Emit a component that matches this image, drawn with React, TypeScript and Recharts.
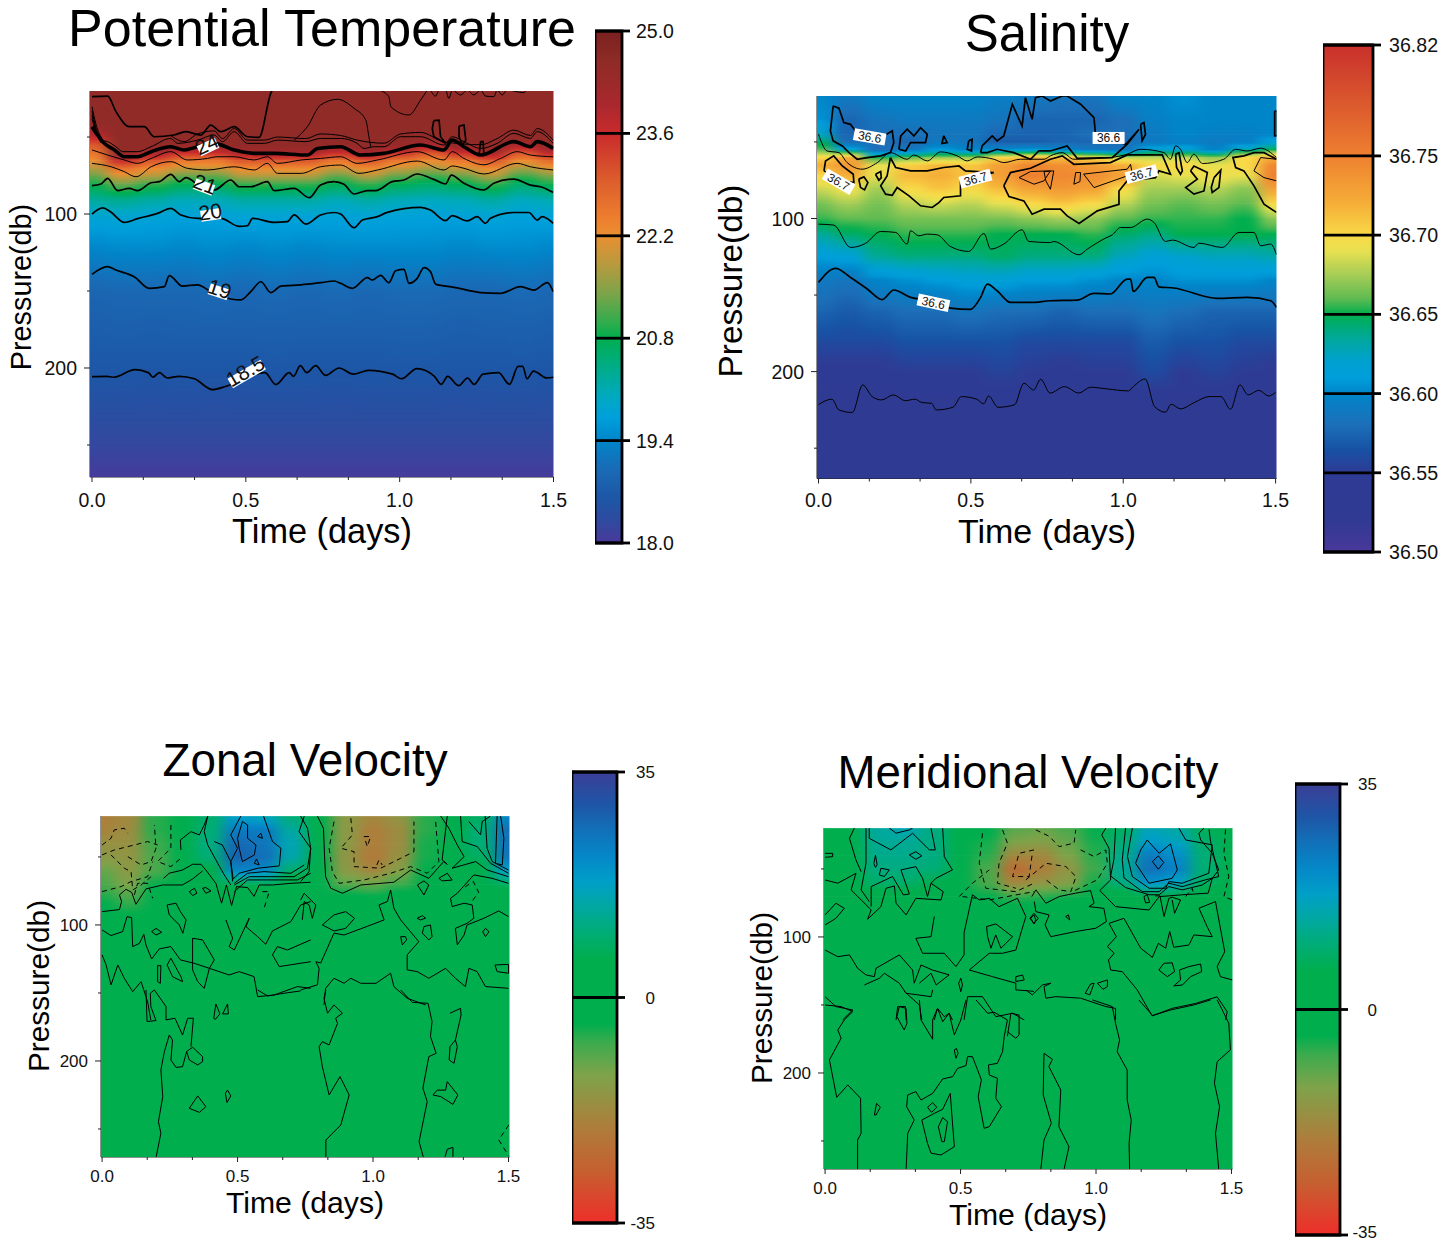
import { ComposedChart, Scatter, XAxis, YAxis, ReferenceArea, ReferenceLine } from 'recharts'

type Pt = [number, number]

const FONT = '"Liberation Sans", Arial, sans-serif'

// time columns shared by the four colour fields
const times = [0, 0.1, 0.2, 0.3, 0.4, 0.5, 0.6, 0.7, 0.8, 0.9, 1.0, 1.1, 1.2, 1.3, 1.4, 1.5]
const timeTicks = [0, 0.1667, 0.3333, 0.5, 0.6667, 0.8333, 1.0, 1.1667, 1.3333, 1.5]
const pressureTicks = [50, 100, 150, 200, 250]

// potential temperature field
const tempLevels = [20, 40, 50, 55, 60, 65, 70, 75, 80, 90, 100, 120, 150, 200, 250, 271]
const tempGrid = [
  [24.55, 24.55, 24.55, 24.55, 24.55, 24.55, 24.55, 24.55, 24.55, 24.55, 24.55, 24.55, 24.55, 24.55, 24.55, 24.55],
  [24.55, 24.55, 24.55, 24.55, 24.55, 24.55, 24.55, 24.55, 24.55, 24.55, 24.55, 24.55, 24.55, 24.55, 24.55, 24.55],
  [23.7, 24.55, 24.55, 24.55, 24.55, 24.55, 24.55, 24.55, 24.55, 24.55, 24.55, 24.55, 24.55, 24.55, 24.55, 24.55],
  [23.0, 24.55, 24.55, 24.4, 24.4, 24.55, 24.55, 24.55, 24.4, 24.55, 24.4, 24.0, 24.4, 24.55, 24.0, 24.5],
  [22.6, 24.5, 24.1, 23.6, 23.6, 24.1, 24.1, 24.1, 23.6, 24.1, 23.6, 23.1, 23.6, 24.1, 23.1, 23.8],
  [22.2, 23.7, 23.1, 22.6, 22.6, 23.1, 23.1, 23.1, 22.6, 23.1, 22.6, 22.3, 22.6, 23.1, 22.3, 22.8],
  [21.8, 22.7, 22.3, 21.95, 21.95, 22.3, 22.3, 22.3, 21.95, 22.3, 21.95, 21.7, 21.95, 22.3, 21.7, 22.05],
  [21.3, 22.05, 21.8, 21.3, 21.3, 21.8, 21.8, 21.8, 21.3, 21.8, 21.3, 21.1, 21.3, 21.8, 21.1, 21.45],
  [20.9, 21.4, 21.1, 20.8, 20.8, 21.1, 21.1, 21.1, 20.8, 21.1, 20.8, 20.65, 20.8, 21.1, 20.65, 20.9],
  [20.3, 20.4, 20.25, 20.1, 20.1, 20.25, 20.25, 20.25, 20.1, 20.25, 20.1, 20.05, 20.1, 20.25, 20.05, 20.15],
  [19.85, 19.88, 19.82, 19.78, 19.78, 19.82, 19.82, 19.82, 19.78, 19.82, 19.78, 19.75, 19.78, 19.82, 19.75, 19.8],
  [19.45, 19.5, 19.5, 19.45, 19.5, 19.45, 19.5, 19.45, 19.5, 19.5, 19.5, 19.5, 19.45, 19.5, 19.5, 19.45],
  [18.9, 18.95, 18.95, 18.95, 19.0, 18.95, 19.0, 18.95, 19.0, 18.95, 19.0, 19.0, 18.95, 18.95, 19.0, 18.95],
  [18.62, 18.62, 18.6, 18.62, 18.6, 18.62, 18.62, 18.62, 18.6, 18.62, 18.62, 18.62, 18.6, 18.62, 18.62, 18.6],
  [18.25, 18.25, 18.25, 18.25, 18.25, 18.25, 18.25, 18.25, 18.25, 18.25, 18.25, 18.25, 18.25, 18.25, 18.25, 18.25],
  [18.05, 18.05, 18.05, 18.05, 18.05, 18.05, 18.05, 18.05, 18.05, 18.05, 18.05, 18.05, 18.05, 18.05, 18.05, 18.05],
]
const tempScale = [18, 18.3, 18.6, 19, 19.4, 19.7, 20, 20.4, 20.8, 21, 21.4, 21.8, 22.2, 22.4, 23, 23.6, 23.7, 24, 24.6, 25]
const tempColors = ['#4a389a', '#2f4a9f', '#1d56a6', '#1a6ab5', '#0085c9', '#009fdc', '#00a9c0', '#00ac88', '#00ae4e', '#2dad4d', '#7ba44a', '#b79a3e', '#e98f32', '#ee812f', '#db5a2c', '#c92a2c', '#c12a2c', '#a8282e', '#8e2b26', '#7a2020']
const tempBarTicks = [18.0, 19.4, 20.8, 22.2, 23.6, 25.0]

// salinity field
const salLevels = [20, 35, 45, 50, 55, 60, 65, 72, 80, 90, 100, 110, 125, 140, 160, 180, 200, 230, 270]
const salGrid = [
  [36.6, 36.59, 36.6, 36.6, 36.6, 36.6, 36.595, 36.59, 36.585, 36.585, 36.6, 36.6, 36.605, 36.6, 36.6, 36.6],
  [36.605, 36.575, 36.585, 36.59, 36.59, 36.59, 36.585, 36.575, 36.575, 36.575, 36.58, 36.595, 36.6, 36.6, 36.6, 36.6],
  [36.625, 36.575, 36.58, 36.58, 36.585, 36.585, 36.575, 36.575, 36.575, 36.58, 36.58, 36.59, 36.6, 36.595, 36.595, 36.6],
  [36.645, 36.58, 36.58, 36.575, 36.59, 36.585, 36.57, 36.57, 36.575, 36.575, 36.58, 36.59, 36.595, 36.59, 36.595, 36.615],
  [36.66, 36.62, 36.58, 36.59, 36.61, 36.6, 36.605, 36.61, 36.6, 36.59, 36.585, 36.62, 36.62, 36.6, 36.63, 36.65],
  [36.7, 36.72, 36.65, 36.66, 36.67, 36.67, 36.7, 36.715, 36.71, 36.7, 36.68, 36.68, 36.68, 36.67, 36.7, 36.72],
  [36.72, 36.735, 36.69, 36.705, 36.715, 36.71, 36.73, 36.745, 36.74, 36.73, 36.72, 36.7, 36.7, 36.69, 36.7, 36.745],
  [36.7, 36.72, 36.69, 36.715, 36.72, 36.71, 36.73, 36.75, 36.745, 36.74, 36.73, 36.685, 36.69, 36.695, 36.69, 36.75],
  [36.685, 36.695, 36.675, 36.7, 36.71, 36.7, 36.715, 36.73, 36.735, 36.73, 36.7, 36.675, 36.675, 36.68, 36.67, 36.73],
  [36.665, 36.675, 36.665, 36.68, 36.685, 36.68, 36.69, 36.7, 36.71, 36.7, 36.68, 36.665, 36.66, 36.665, 36.66, 36.7],
  [36.655, 36.66, 36.66, 36.665, 36.665, 36.665, 36.665, 36.67, 36.675, 36.67, 36.66, 36.655, 36.655, 36.655, 36.65, 36.67],
  [36.635, 36.645, 36.65, 36.655, 36.655, 36.655, 36.65, 36.65, 36.65, 36.655, 36.645, 36.64, 36.65, 36.65, 36.65, 36.65],
  [36.61, 36.615, 36.635, 36.64, 36.64, 36.64, 36.645, 36.64, 36.64, 36.64, 36.625, 36.615, 36.62, 36.625, 36.625, 36.63],
  [36.59, 36.585, 36.6, 36.605, 36.61, 36.615, 36.615, 36.61, 36.61, 36.605, 36.6, 36.6, 36.605, 36.605, 36.605, 36.6],
  [36.575, 36.57, 36.575, 36.58, 36.58, 36.585, 36.58, 36.58, 36.575, 36.58, 36.58, 36.585, 36.58, 36.575, 36.575, 36.575],
  [36.56, 36.56, 36.56, 36.565, 36.565, 36.565, 36.565, 36.56, 36.56, 36.56, 36.56, 36.57, 36.565, 36.565, 36.56, 36.56],
  [36.545, 36.545, 36.545, 36.55, 36.55, 36.55, 36.555, 36.55, 36.545, 36.55, 36.55, 36.56, 36.55, 36.555, 36.55, 36.545],
  [36.535, 36.535, 36.535, 36.535, 36.535, 36.535, 36.535, 36.535, 36.535, 36.535, 36.535, 36.535, 36.535, 36.535, 36.535, 36.535],
  [36.53, 36.53, 36.53, 36.53, 36.53, 36.53, 36.53, 36.53, 36.53, 36.53, 36.53, 36.53, 36.53, 36.53, 36.53, 36.53],
]
const salScale = [36.5, 36.52, 36.55, 36.565, 36.58, 36.6, 36.61, 36.62, 36.635, 36.65, 36.66, 36.675, 36.69, 36.7, 36.72, 36.75, 36.78, 36.82]
const salColors = ['#4a389a', '#303a92', '#2e3b94', '#1752a5', '#1c6fb8', '#0085c9', '#009fdc', '#00a0d0', '#00a99a', '#00ae4e', '#60bb52', '#a6cd56', '#e8e050', '#f9d947', '#f5ae38', '#ee8030', '#dd5c2d', '#c8302c']
const salBarTicks = [36.5, 36.55, 36.6, 36.65, 36.7, 36.75, 36.82]

// velocity fields share one colour scale and one set of levels
const velLevels = [20, 30, 40, 50, 60, 70, 80, 100, 271]
const zonalGrid = [
  [-20, -18, -6, 0, 9, 18, 16, 10, 0, -14, -18, -15, -6, 3, 8, 22],
  [-19, -17, -6, 0, 10, 24, 24, 14, -1, -14, -20, -17, -6, 4, 10, 26],
  [-16, -16, -7, 0, 11, 27, 25, 16, -1, -14, -20, -17, -5, 4, 10, 26],
  [-14, -15, -8, -1, 10, 28, 26, 15, -1, -15, -21, -16, -5, 3, 8, 25],
  [-10, -14, -8, -1, 5, 22, 21, 9, -1, -14, -18, -13, -4, 1, 4, 18],
  [-8, -12, -4, 0, 1, 7, 7, 2, 0, -9, -10, -7, -2, 0, 1, 8],
  [-5, -8, -2, 0, 0, 1, 1, 0, 0, -2, -3, -2, -1, 0, 0, 2],
  [0, -1, 0, 0, 0, 0, 0, 0, 0, 0, 0, 0, 0, 0, 0, 0],
  [0, 0, 0, 0, 0, 0, 0, 0, 0, 0, 0, 0, 0, 0, 0, 0],
]
const meridGrid = [
  [0, 2, 14, 16, 11, 1, -3, -9, -10, -8, -4, 8, 16, 14, 7, -1],
  [0, 2, 13, 13, 11, 1, -5, -12, -13, -10, -5, 10, 19, 17, 9, -1],
  [0, 2, 12, 12, 11, 1, -6, -18, -18, -12, -6, 12, 24, 21, 10, -1],
  [0, 2, 11, 11, 10, 1, -8, -24, -20, -15, -7, 13, 26, 23, 10, -2],
  [0, 1, 9, 9, 6, 1, -8, -18, -15, -13, -5, 11, 20, 17, 8, -3],
  [0, 0, 3, 3, 2, 0, -4, -7, -6, -5, -2, 3, 6, 5, 3, -1],
  [0, 0, 0, 1, 0, 0, -1, -2, -2, -1, 0, 1, 2, 2, 1, 0],
  [0, 0, 0, 0, 0, 0, 0, 0, 0, 0, 0, 0, 0, 0, 0, 0],
  [0, 0, 0, 0, 0, 0, 0, 0, 0, 0, 0, 0, 0, 0, 0, 0],
]
const velScale = [-35, -27, -20, -12, -7, -4, 6, 10, 14, 18, 22, 26, 30, 35]
const velColors = ['#ee2e2a', '#c65f30', '#ad7e3b', '#7ea34a', '#3cab4d', '#00ae4e', '#00ae4e', '#00ad75', '#00a8a0', '#009fc8', '#0587c8', '#1270b8', '#1e55a6', '#3b3f96']
const velBarTicks = [-35, 0, 35]

// temperature contours, [time, pressure]
const t185: Pt[] = [[0, 205.6], [.047, 205.4], [.069, 206], [.14, 201], [.183, 203], [.198, 206], [.219, 203], [.245, 206.5], [.283, 205.4], [.333, 207], [.391, 214], [.434, 212], [.562, 203], [.598, 210.8], [.641, 203], [.655, 205.4], [.677, 198.5], [.698, 203], [.727, 198.5], [.759, 204.8], [.803, 200], [.849, 204], [.899, 201.5], [.977, 204], [1.006, 207], [1.056, 200.4], [1.113, 205.4], [1.135, 210.6], [1.156, 205.4], [1.192, 211.5], [1.221, 206.5], [1.242, 210.6], [1.271, 204], [1.321, 203], [1.357, 210.6], [1.385, 199], [1.4, 199], [1.414, 207], [1.435, 202], [1.478, 206.5], [1.5, 206]]
const t19: Pt[] = [[0, 139.2], [.05, 134.2], [.078, 136.4], [.11, 138.5], [.137, 140.7], [.186, 148.3], [.235, 147.2], [.251, 140], [.294, 146.8], [.343, 146], [.386, 150.4], [.451, 155.2], [.484, 155.8], [.516, 150.4], [.549, 144], [.581, 151], [.614, 146.8], [.679, 146], [.743, 144.6], [.787, 143.5], [.808, 145], [.846, 148.3], [.895, 141.3], [.911, 142.9], [.938, 139.8], [.965, 144.6], [.987, 136.8], [1.014, 135.9], [1.03, 145], [1.057, 141.8], [1.079, 134.8], [1.1, 137.4], [1.117, 145.5], [1.177, 147.6], [1.263, 151], [1.328, 151.5], [1.393, 147.2], [1.436, 149.4], [1.48, 144.6], [1.499, 150.4]]
const t20: Pt[] = [[0, 100], [.035, 96], [.06, 98.5], [.105, 105.4], [.148, 103], [.213, 99.6], [.256, 96.3], [.289, 100.6], [.343, 102.8], [.419, 102.8], [.478, 108], [.505, 107.6], [.522, 102.8], [.592, 105.4], [.635, 105], [.657, 100.6], [.695, 106.5], [.743, 100.6], [.787, 99], [.808, 100], [.852, 108.9], [.879, 103.9], [.928, 101.7], [.96, 98.9], [1.068, 95.7], [1.1, 97.4], [1.149, 104.3], [1.171, 101], [1.22, 104.5], [1.252, 101.7], [1.279, 106], [1.295, 102.8], [1.371, 99], [1.42, 99], [1.447, 103.9], [1.463, 101.7], [1.499, 106]]
const t21: Pt[] = [[0, 81.6], [.029, 80.5], [.051, 76.8], [.083, 84.8], [.121, 83.3], [.148, 84.8], [.192, 79.7], [.219, 79], [.256, 74.2], [.284, 79], [.305, 76.4], [.354, 82.3], [.397, 84.4], [.451, 77.9], [.478, 82.3], [.516, 82.3], [.57, 79], [.592, 84.8], [.657, 83.3], [.706, 89.4], [.743, 81.2], [.787, 79], [.819, 80.7], [.852, 87], [.895, 84.8], [.922, 84.8], [.976, 79], [1.014, 77.9], [1.057, 74], [1.111, 77.5], [1.149, 80.5], [1.168, 74.7], [1.209, 80], [1.274, 84.4], [1.306, 80], [1.371, 77.3], [1.425, 81.2], [1.458, 82.3], [1.499, 86.1]]
const t22a: Pt[] = [[0, 58.4], [.051, 61.7], [.105, 64.9], [.148, 67.1], [.192, 63.9], [.256, 59.5], [.31, 64.9], [.375, 63.9], [.407, 62.8], [.462, 62.8], [.527, 64.9], [.57, 62.8], [.603, 67.1], [.68, 64.9], [.743, 63.9], [.808, 62.8], [.862, 67.1], [.928, 64.9], [1.057, 59.5], [1.144, 64.9], [1.171, 59.5], [1.209, 63.9], [1.274, 68], [1.328, 63.9], [1.382, 59.5], [1.425, 61.7], [1.499, 62.8]]
const t22b: Pt[] = [[0, 67.1], [.062, 69.3], [.105, 72.5], [.143, 75.8], [.192, 69.3], [.256, 66], [.31, 70.3], [.375, 71.4], [.462, 69.3], [.527, 71.4], [.57, 67.1], [.603, 73.6], [.68, 73.6], [.743, 69.3], [.808, 68.2], [.868, 73.6], [.928, 71.4], [1.057, 65.6], [1.144, 71.4], [1.171, 68.8], [1.209, 70.3], [1.274, 74], [1.382, 67.1], [1.425, 69.3], [1.499, 71.4]]
const t24: Pt[] = [[0, 43.3], [.018, 48.7], [.04, 54.1], [.073, 58.4], [.105, 62.8], [.148, 62.8], [.192, 59.5], [.256, 56.3], [.3, 58.4], [.343, 56.3], [.397, 54.1], [.462, 58.4], [.527, 60.6], [.592, 60.6], [.7, 61.7], [.733, 57.4], [.808, 56.3], [.873, 61.7], [.949, 60.6], [1.068, 55.2], [1.144, 58.4], [1.171, 51.9], [1.209, 56.3], [1.263, 61.7], [1.371, 53], [1.425, 56.3], [1.447, 53], [1.499, 57.4]]
const t24b: Pt[] = [[0, 35.7], [.013, 45.5], [.029, 52], [.051, 53], [.078, 56.3], [.1, 59.5], [.148, 59.5], [.192, 56.3], [.256, 50.9], [.278, 54.1], [.343, 52], [.397, 48.7], [.424, 53], [.462, 46.5], [.505, 54.1], [.56, 54.1], [.603, 52], [.695, 53], [.743, 50.9], [.808, 50.9], [.862, 54.1], [.884, 57.4], [.917, 56.3], [.949, 56.3], [1.003, 49.8], [1.068, 49.8], [1.144, 55.2], [1.171, 49.8], [1.209, 53], [1.263, 57.4], [1.317, 54.1], [1.371, 47.6], [1.425, 50.9], [1.447, 46.5], [1.499, 54.1]]
const t24c: Pt[] = [[.256, 49], [.3, 53], [.343, 48], [.397, 46], [.424, 51], [.462, 44.5], [.505, 52], [.56, 52], [.603, 50], [.695, 51], [.743, 48], [.808, 49], [.862, 52], [.949, 54], [1.003, 48], [1.068, 47], [1.144, 53], [1.263, 55], [1.317, 51], [1.371, 45.5], [1.425, 49], [1.447, 44.5], [1.499, 52]]
const tFan1: Pt[] = [[0, 30.3], [.012, 41], [.035, 52]]
const tFan2: Pt[] = [[0, 33], [.012, 43.5], [.03, 52]]
const tFan3: Pt[] = [[0, 38], [.015, 48], [.03, 54]]
const tTop: Pt[] = [[0, 23.8], [.051, 23.4], [.078, 33.5], [.121, 43.3], [.17, 43.3], [.202, 49.8], [.267, 48.7], [.305, 46.5], [.354, 48.7], [.386, 42.2], [.419, 46.5], [.462, 43.3], [.505, 49.8], [.543, 50.2], [.581, 21.6], [.587, 19]]
const tPatch1: Pt[] = [[.657, 52], [.7, 43.3], [.743, 29.2], [.798, 25.5], [.852, 31.4], [.89, 39], [.9, 49.8], [.906, 56.3]]
const tPatch2: Pt[] = [[.933, 19.5], [.965, 23.8], [.971, 30.3], [1.03, 35.7], [1.068, 26], [1.09, 19.5]]
const tLoop1: Pt[] = [[1.111, 39.4], [1.128, 39], [1.133, 49.8], [1.149, 54.1], [1.111, 49.8], [1.106, 44.4], [1.111, 39.4]]
const tLoop2: Pt[] = [[1.193, 42.9], [1.209, 42.2], [1.215, 52], [1.204, 55.2], [1.193, 49.8], [1.193, 42.9]]
const tLoop3: Pt[] = [[1.263, 53], [1.271, 53], [1.274, 61.7], [1.258, 61.7], [1.263, 53]]
const tScallops: Pt[] = [[1.1, 19.5], [1.117, 23.4], [1.128, 19.5], [1.149, 19.5], [1.16, 24.9], [1.171, 19.5], [1.198, 22.7], [1.22, 19.5], [1.241, 22.7], [1.263, 19.5], [1.279, 23.4], [1.306, 23.8], [1.317, 19.5], [1.333, 22.7], [1.349, 19.5], [1.404, 21.2], [1.41, 19.5]]
const tempHeavy = [t24]
const tempThick = [t185, t19, t20, t21, tTop, tLoop1, tLoop2, tLoop3]
const tempThin = [t22a, t22b, t24b, t24c, tFan1, tFan2, tFan3, tPatch1, tPatch2, tScallops]

const tempLabels = [
  { t: .377, p: 56.5, text: '24' },
  { t: .364, p: 82.5, text: '21' },
  { t: .386, p: 100.6, text: '20' },
  { t: .412, p: 150.6, text: '19' },
  { t: .503, p: 203.9, text: '18.5' },
]
const tempLabelAngles = [-25, 20, -8, 18, -30]

// salinity contours
const s655: Pt[] = [[0, 221.5], [.044, 218], [.067, 225], [.111, 226.7], [.145, 208.7], [.176, 216.3], [.207, 218.5], [.246, 215.2], [.285, 219], [.316, 218], [.34, 220.2], [.371, 220.7], [.386, 225], [.441, 223.3], [.469, 216.3], [.519, 218], [.542, 221], [.558, 215.9], [.589, 223.3], [.643, 221.7], [.674, 207.6], [.706, 212], [.729, 205], [.76, 214], [.807, 209.8], [.854, 214], [.893, 210.2], [.947, 211.3], [1.017, 212.6], [1.033, 209.8], [1.072, 204.8], [1.103, 222.8], [1.139, 226.5], [1.157, 221.3], [1.188, 224.3], [1.235, 220], [1.282, 216.3], [1.321, 216.3], [1.352, 224.6], [1.383, 208.7], [1.41, 215.2], [1.445, 212.2], [1.477, 215.9], [1.5, 213.5]]
const s66: Pt[] = [[0, 141.7], [.056, 132.6], [.105, 138.5], [.16, 146], [.209, 153], [.247, 146.7], [.302, 151.5], [.368, 153.7], [.433, 158.5], [.499, 159.3], [.532, 151.5], [.554, 142.8], [.586, 147.2], [.63, 154.8], [.696, 154.8], [.761, 153.7], [.849, 153.3], [.904, 148.9], [.958, 149.3], [1.013, 139.6], [1.024, 139.6], [1.033, 147.6], [1.079, 138.5], [1.101, 138.5], [1.117, 144.6], [1.166, 145.4], [1.309, 152.2], [1.407, 151.5], [1.484, 153.7], [1.503, 158]]
const s65: Pt[] = [[0, 103.7], [.05, 104.3], [.105, 118.9], [.154, 116.3], [.204, 108.5], [.253, 109.1], [.291, 116.7], [.302, 108], [.329, 111.3], [.357, 110.2], [.39, 110.7], [.433, 118.3], [.493, 121.5], [.543, 109.8], [.565, 120], [.608, 116.7], [.668, 107.4], [.69, 115], [.761, 115.7], [.772, 115], [.855, 123.7], [.882, 120], [.942, 112.8], [.964, 110.7], [.991, 105.9], [1.024, 105.9], [1.079, 100.4], [1.101, 102.6], [1.139, 115], [1.161, 114.1], [1.232, 118.9], [1.248, 116.1], [1.325, 118.9], [1.38, 109.1], [1.429, 109.1], [1.451, 117.8], [1.484, 116.7], [1.503, 123.7]]
const sUpper: Pt[] = [[0, 45], [.028, 55.9], [.067, 57], [.094, 63.5], [.143, 67.8], [.193, 63.5], [.236, 57], [.291, 61.3], [.313, 58.5], [.357, 62.4], [.4, 56.5], [.455, 59.1], [.488, 62.4], [.521, 59.8], [.575, 61.3], [.608, 63.5], [.663, 61.3], [.74, 61.3], [.761, 59.1], [.8, 57], [.838, 61.3], [.958, 60.2], [1.013, 58], [1.057, 54.8], [1.134, 57], [1.155, 61.3], [1.172, 52.6], [1.188, 54.8], [1.21, 63.5], [1.232, 58], [1.26, 64.1], [1.33, 61.3], [1.369, 54.8], [1.407, 55.9], [1.451, 54.1], [1.503, 60.2]]
const sBlobLeft: Pt[] = [[.018, 68.9], [.023, 62.4], [.05, 59.1], [.078, 65.7], [.114, 71.1], [.116, 76.5], [.07, 75], [.018, 68.9]]
const sDot1: Pt[] = [[.132, 74.3], [.149, 72.8], [.162, 76.5], [.151, 81.3], [.138, 79.8], [.132, 74.3]]
const sDot2: Pt[] = [[.187, 71.1], [.204, 69.3], [.206, 73.3], [.198, 75], [.187, 71.1]]
const sMain: Pt[] = [[.236, 60.2], [.253, 66.7], [.302, 68.9], [.357, 68.9], [.411, 66.7], [.461, 65.7], [.482, 68.9], [.575, 70], [.466, 74.3], [.466, 85.2], [.411, 86.3], [.395, 89.6], [.373, 92.8], [.335, 91.7], [.297, 85.2], [.258, 79.8], [.242, 84.8], [.22, 84.1], [.204, 78.7], [.225, 72.2], [.236, 60.2]]
const sOrange: Pt[] = [[.608, 78.7], [.63, 70], [.696, 67.2], [.761, 61.3], [.8, 59.1], [.838, 64.6], [.958, 63.5], [1.013, 58.5], [1.128, 58.5], [1.155, 71.1], [1.117, 68.9], [1.106, 73.3], [1.013, 75.4], [.986, 82], [.986, 90.7], [.915, 95], [.855, 103.3], [.816, 98.3], [.794, 93.9], [.74, 93.9], [.701, 97.2], [.674, 88.5], [.625, 85.7], [.608, 78.7]]
const sRight: Pt[] = [[1.503, 96], [1.462, 90.7], [1.429, 78.7], [1.396, 68.9], [1.369, 66.7], [1.36, 60.2], [1.396, 59.1], [1.429, 57], [1.462, 57], [1.503, 61.3]]
const sRightIn: Pt[] = [[1.503, 75.4], [1.462, 73.3], [1.429, 68.9], [1.451, 60.2], [1.503, 61.3]]
const sIn1: Pt[] = [[.658, 73.3], [.707, 77.6], [.74, 75.4], [.761, 68.9], [.696, 69.3], [.658, 73.3]]
const sIn2: Pt[] = [[.74, 69.3], [.772, 68.9], [.761, 80.9], [.746, 75.4], [.74, 69.3]]
const sIn3: Pt[] = [[.838, 77.6], [.844, 70], [.86, 70], [.858, 75.9], [.838, 77.6]]
const sIn4: Pt[] = [[.87, 71], [1.013, 67.8], [1.024, 64.6], [1.03, 71], [.904, 79.8], [.87, 71]]
const sSm1: Pt[] = [[1.172, 58], [1.183, 57], [1.194, 68.9], [1.188, 71.1], [1.175, 66.7], [1.172, 58]]
const sSm2: Pt[] = [[1.221, 68.9], [1.232, 65.7], [1.276, 70], [1.265, 82], [1.232, 84.1], [1.205, 79.8], [1.243, 74.3], [1.221, 68.9]]
const sSm3: Pt[] = [[1.298, 73.3], [1.32, 68.5], [1.314, 79.8], [1.292, 83], [1.289, 79.8], [1.298, 73.3]]
const sBlue1: Pt[] = [[.048, 26.5], [.067, 28], [.083, 37.4], [.105, 38.5], [.121, 42.8], [.214, 46.1], [.242, 42.8], [.247, 50.4], [.236, 57], [.204, 59.1], [.16, 60.2], [.127, 61.3], [.1, 57], [.078, 52.6], [.048, 49.3], [.039, 42.8], [.048, 26.5]]
const sBlue2: Pt[] = [[.264, 54.8], [.27, 46.1], [.291, 41.7], [.313, 46.1], [.335, 40.7], [.357, 45], [.351, 50.4], [.302, 50.4], [.286, 55.9], [.264, 54.8]]
const sBlue3: Pt[] = [[.532, 57], [.537, 52.6], [.57, 46.1], [.586, 49.3], [.608, 46.1], [.636, 25.4], [.668, 39.6], [.679, 21.1], [.701, 35.2], [.712, 21.1], [.734, 20], [.761, 23.3], [.8, 20], [.816, 20], [.86, 25.4], [.904, 34.1], [.909, 45], [1.008, 51.5], [1.052, 41.7], [1.013, 51.5], [.964, 60.2], [.849, 60.7], [.816, 52.6], [.761, 55.9], [.723, 55.9], [.696, 61.3], [.641, 57], [.586, 54.8], [.554, 57], [.532, 57]]
const sSm4: Pt[] = [[1.057, 38.5], [1.068, 37.4], [1.073, 45], [1.062, 49.3], [1.057, 38.5]]
const sSm5: Pt[] = [[.411, 46], [.422, 50.4], [.405, 51], [.411, 46]]
const sSm6: Pt[] = [[.493, 49.3], [.504, 48.3], [.502, 55.9], [.488, 54.8], [.493, 49.3]]
const sSm7: Pt[] = [[1.497, 29.8], [1.505, 29.8], [1.505, 46], [1.497, 46], [1.497, 29.8]]
const salThick = [s66, sBlobLeft, sDot1, sDot2, sMain, sOrange, sRight, sBlue1, sBlue2, sBlue3, sSm1, sSm2, sSm3, sSm4, sSm5, sSm6, sSm7]
const salThin = [s655, s65, sUpper, sRightIn, sIn1, sIn2, sIn3, sIn4]

const salLabels = [
  { t: .168, p: 46.7, text: '36.6' },
  { t: .066, p: 76, text: '36.7' },
  { t: .515, p: 74, text: '36.7' },
  { t: .952, p: 47.4, text: '36.6' },
  { t: 1.06, p: 71, text: '36.7' },
  { t: .377, p: 155, text: '36.6' },
]
const salLabelAngles = [10, 30, -15, 0, -15, 12]

// zonal velocity contours, solid
const zonalSolid: Pt[][] = [
  [[.227, 65.7], [.248, 62], [.297, 59.6], [.334, 55.4], [.365, 55.4], [.383, 59.6], [.42, 69.4], [.441, 84], [.459, 70.6], [.478, 85.8], [.496, 71.8], [.537, 72.5], [.561, 79], [.58, 70.6], [.629, 70.6], [.697, 69.4], [.77, 68.6]],
  [[0, 90.2], [.064, 88.7], [.072, 82.8], [.064, 77.9], [.088, 73.8], [.109, 76], [.125, 84.8], [.162, 73.5], [.224, 70.6], [.297, 70.6], [.334, 66.2], [.371, 60.3]],
  [[0, 103.7], [.033, 107.8], [.076, 104.9], [.092, 93.9], [.109, 94.6], [.113, 115.9], [.138, 113.5], [.154, 106.9], [.162, 114.7], [.183, 125], [.211, 117.6], [.254, 115.9], [.289, 125.7], [.34, 128.2], [.396, 131.9], [.469, 136.8], [.506, 134.3], [.561, 138], [.574, 152.7], [.635, 151.5], [.721, 145.3], [.77, 146.6]],
  [[0, 122], [.015, 129.4], [.033, 144.1], [.058, 129.4], [.082, 139.2], [.113, 149], [.144, 141.7], [.168, 156.4], [.18, 170]],
  [[.24, 85.3], [.273, 84], [.289, 90.2], [.31, 96.3], [.298, 106.1], [.285, 100], [.248, 92.6], [.24, 85.3]],
  [[.183, 104.9], [.199, 102.5], [.22, 105.4], [.199, 107.4], [.183, 104.9]],
  [[.205, 129.9], [.217, 129.9], [.215, 142.9], [.205, 141.7], [.205, 129.9]],
  [[.24, 129.4], [.254, 124.5], [.291, 138], [.297, 141.7], [.26, 138], [.24, 129.4]],
  [[.334, 109.8], [.371, 111], [.414, 125.7], [.396, 131.9], [.377, 146.6], [.353, 141.7], [.334, 133], [.334, 109.8]],
  [[.322, 75.5], [.341, 73], [.35, 76.7], [.334, 78.4], [.322, 75.5]],
  [[.371, 73], [.383, 72.5], [.402, 75], [.383, 76.7], [.371, 73]],
  [[.457, 96.3], [.482, 109.8], [.469, 115.9], [.488, 118.4], [.543, 95.1], [.531, 101.2], [.574, 108.6], [.604, 114.2], [.629, 104.4], [.697, 97.5], [.733, 85.3], [.77, 82.8]],
  [[.77, 111], [.684, 118.4], [.647, 115.9], [.629, 122], [.654, 130.6], [.77, 127]],
  [[.39, 20], [.377, 31.4], [.39, 41.2], [.427, 54.7], [.451, 63.2], [.475, 70.6]],
  [[.414, 38.7], [.444, 41.2], [.475, 53.4], [.482, 68]],
  [[.512, 20], [.475, 33.8], [.5, 43.6], [.475, 53.4], [.484, 66.2], [.506, 62], [.574, 58.3], [.654, 56.6], [.66, 43.6], [.629, 38.7], [.596, 20]],
  [[.518, 24], [.537, 26.5], [.537, 36.3], [.568, 41.2], [.562, 48.5], [.518, 53.4], [.506, 43.6], [.5, 36.3], [.518, 24]],
  [[.574, 35], [.586, 32.6], [.592, 36.3], [.574, 35]],
  [[.562, 54.7], [.57, 51.5], [.58, 55.9], [.562, 54.7]],
  [[.488, 69.4], [.537, 62], [.598, 60.8], [.697, 62], [.746, 55.9]],
  [[.488, 70.6], [.543, 64.5], [.623, 64.5], [.709, 64.5], [.758, 58.3], [.77, 43.6], [.727, 31.4], [.746, 20]],
  [[.488, 75.5], [.537, 66.9], [.611, 66.9], [.721, 66.9], [.77, 62]],
  [[.291, 44.9], [.289, 37.5], [.328, 31.4], [.359, 33.8], [.377, 26.5], [.39, 20]],
  [[.733, 20], [.758, 28.9], [.77, 43.6], [.764, 60.8], [.733, 68.1]],
  [[.795, 20], [.817, 28.9], [.822, 53.4], [.825, 64.5], [.844, 73], [.887, 76.7], [.955, 70.6], [1.077, 68.6], [1.139, 59.6], [1.206, 65.7], [1.261, 53.4], [1.274, 55.4], [1.255, 52.2], [1.274, 20]],
  [[1.25, 20], [1.28, 28.9], [1.311, 41.2], [1.336, 49.8], [1.292, 58.3], [1.379, 53.4], [1.421, 59.6], [1.5, 64.5]],
  [[1.323, 20], [1.329, 38.7], [1.385, 42.4], [1.434, 54.7], [1.5, 62]],
  [[1.354, 24], [1.397, 33.8], [1.403, 24], [1.433, 20]],
  [[1.414, 20], [1.421, 43.6], [1.44, 53.4], [1.5, 59.6]],
  [[1.458, 20], [1.452, 54.7], [1.477, 55.9], [1.483, 36.3], [1.471, 20]],
  [[1.5, 69.4], [1.439, 65.7], [1.372, 63.2], [1.311, 76.7], [1.286, 80.4], [1.292, 86.5], [1.336, 84], [1.366, 85.3], [1.372, 95.1], [1.347, 98.8], [1.304, 102.5], [1.311, 114.7], [1.336, 107.4], [1.347, 100], [1.409, 95.1], [1.464, 89.7], [1.5, 93.9]],
  [[.733, 147.8], [.795, 144], [.801, 131.9], [.789, 127], [.807, 128], [.856, 106], [.893, 107.4], [.979, 101], [1.041, 96.3], [1.022, 85.3], [1.053, 82.8], [1.065, 74.3], [1.077, 87.7], [1.102, 96.3], [1.169, 112.3], [1.126, 122], [1.126, 133], [1.163, 134.3], [1.206, 139.2], [1.268, 131.9], [1.304, 139.2], [1.341, 145.3], [1.354, 131.9], [1.384, 134.3], [1.415, 145.3], [1.5, 146.6]],
  [[.813, 100], [.856, 92.6], [.899, 90.2], [.932, 95.1], [.899, 102.5], [.856, 104.4], [.813, 100]],
  [[1.164, 70.6], [1.188, 67.6], [1.206, 70.6], [1.188, 78], [1.164, 70.6]],
  [[1.243, 65.7], [1.274, 62], [1.292, 67], [1.255, 67.6], [1.243, 65.7]],
  [[1.188, 101.2], [1.212, 100], [1.218, 108.6], [1.206, 111], [1.182, 106], [1.188, 101.2]],
  [[1.163, 95.1], [1.182, 93.1], [1.194, 95], [1.175, 96.3], [1.163, 95.1]],
  [[1.102, 108.6], [1.12, 108.6], [1.124, 111], [1.108, 114.7], [1.102, 108.6]],
  [[1.45, 129.4], [1.5, 129], [1.5, 135.5], [1.458, 134.3], [1.45, 129.4]],
  [[1.415, 102.5], [1.428, 104.9], [1.415, 108.6], [1.405, 105], [1.415, 102.5]],
  [[.733, 81.6], [.746, 76.7], [.789, 85.3], [.776, 95.1], [.764, 85.3], [.746, 82.8], [.739, 96.3]],
  [[.819, 158.8], [.825, 146.6], [.856, 139.2], [.893, 142.9], [.918, 139.2], [.955, 142.9], [1.011, 142.9], [1.065, 135.5], [1.077, 145.3], [1.126, 153.9], [1.194, 158.8]],
  [[.199, 271], [.217, 253.2], [.208, 244.6], [.224, 226.2], [.217, 206.6], [.23, 193.1], [.248, 180.9], [.26, 184.6], [.254, 199.3], [.273, 204.7], [.297, 204.2], [.312, 193.1], [.334, 189.9], [.371, 196.8], [.371, 200.5], [.353, 202.9], [.322, 199.3], [.312, 193.1]],
  [[.162, 147.8], [.166, 171], [.199, 170.3], [.18, 160], [.178, 150.2], [.193, 147.8], [.236, 160], [.236, 169.8], [.269, 168.6], [.297, 180.9], [.316, 168.6], [.337, 168.6], [.328, 189.5]],
  [[.574, 147.8], [.611, 152.2], [.672, 150.2], [.733, 148.5]],
  [[.322, 234.8], [.353, 225.7], [.383, 233.6], [.359, 237.8], [.322, 234.8]],
  [[.455, 223.8], [.463, 221.4], [.475, 225.7], [.461, 230.6], [.455, 223.8]],
  [[.412, 168.6], [.42, 158.1], [.435, 165.4], [.418, 169.4], [.412, 168.6]],
  [[.445, 165.4], [.463, 158.1], [.466, 165.4], [.445, 165.4]],
  [[.826, 271], [.826, 258.1], [.881, 247.1], [.912, 225], [.878, 211.5], [.838, 225], [.813, 204.2], [.801, 189.5], [.813, 185.8], [.838, 188.2], [.869, 172.3], [.862, 168.6], [.887, 164.9], [.856, 158.8], [.832, 164.9], [.819, 153.9], [.826, 147.8]],
  [[1.186, 271], [1.17, 259.3], [1.2, 229.9], [1.184, 220], [1.206, 196.8], [1.233, 194.4], [1.212, 182], [1.218, 171], [1.203, 157.6], [1.145, 156.9], [1.102, 147.8]],
  [[1.284, 164.9], [1.323, 161.3], [1.325, 166.2], [1.304, 184.6], [1.284, 189.5], [1.281, 199.3], [1.299, 201.7], [1.311, 189.5], [1.304, 184.6]],
  [[1.221, 225], [1.237, 221.4], [1.268, 221.4], [1.274, 215.2], [1.313, 225], [1.295, 231.9], [1.25, 226.2], [1.221, 225]],
  [[1.265, 271], [1.274, 264.9], [1.295, 263.5], [1.295, 271]],
]
// zonal velocity contours, dashed (negative)
const zonalDashed: Pt[][] = [
  [[0, 41.2], [.033, 36.3], [.045, 30.1], [.082, 28.9], [.095, 32.6]],
  [[0, 48.5], [.045, 44.9], [.119, 41.2], [.168, 38.7], [.205, 41.2]],
  [[.033, 48.5], [.082, 58.3], [.107, 60.8], [.113, 74.3], [.144, 70.6], [.181, 64.5]],
  [[.095, 49.8], [.144, 55.9], [.181, 53.4], [.199, 43.6], [.193, 26.5]],
  [[0, 75.5], [.07, 71.8], [.107, 68.1], [.168, 64.5], [.187, 53.4]],
  [[.254, 26.5], [.254, 43.6], [.205, 53.4], [.254, 57.1], [.291, 51]],
  [[.119, 77.9], [.131, 69.4], [.168, 69.4], [.187, 80.4]],
  [[.592, 75.5], [.617, 75.5], [.598, 87.7]],
  [[.856, 24], [.838, 43.6], [.85, 60.8], [.875, 69.4], [.967, 66.9], [1.065, 62], [1.139, 57.1], [1.2, 62], [1.243, 53.4], [1.231, 24]],
  [[.918, 21.5], [.924, 33.8], [.881, 43.6], [.93, 46.1], [.93, 57.1], [1.028, 58.3], [1.102, 51], [1.151, 46.1], [1.151, 24]],
  [[.967, 35], [.991, 35], [.979, 42.4], [.967, 35]],
  [[1.014, 55.9], [1.022, 52.2], [1.034, 55.9]],
  [[1.501, 247], [1.464, 258], [1.5, 269.6]],
  [[1.34, 72], [1.37, 68], [1.39, 76], [1.36, 84]],
]

// meridional velocity contours, solid
const meridSolid: Pt[][] = [
  [[0, 58.1], [.047, 60.5], [.114, 53.2], [.096, 65.4], [.17, 80.1], [.157, 87], [.206, 77.7], [.225, 64.2], [.256, 62.5], [.262, 75.2], [.299, 83.8], [.335, 71.6], [.428, 72.8], [.436, 66.7], [.391, 60.5], [.378, 70.3], [.36, 56.9], [.335, 48.3], [.28, 50.7], [.311, 68.4], [.289, 69.1], [.249, 55.6], [.17, 63], [.17, 77.7]],
  [[.108, 20], [.09, 27.5], [.114, 43.4], [.133, 52]],
  [[.163, 20], [.163, 27.5], [.243, 36], [.323, 23.8], [.385, 36], [.407, 36], [.391, 20]],
  [[.151, 20], [.151, 45.8], [.133, 65.4], [.163, 74]],
  [[.237, 20], [.262, 23.7], [.311, 21.3], [.323, 20]],
  [[.434, 20], [.44, 41], [.47, 50.7], [.409, 56.9], [.391, 60.5]],
  [[.311, 39.7], [.335, 37.3], [.357, 40.4], [.335, 42.9], [.311, 39.7]],
  [[.186, 40], [.192, 47], [.186, 49], [.18, 46], [.186, 40]],
  [[.206, 49.5], [.237, 50.7], [.219, 55.6], [.2, 54.4], [.206, 49.5]],
  [[0, 38.5], [.028, 38.5], [.028, 41], [0, 41.4]],
  [[0, 83.8], [.04, 75.2], [.071, 78.9], [.04, 86.3], [0, 91.2]],
  [[.403, 85], [.391, 99.8], [.335, 101], [.36, 112], [.44, 112], [.483, 121.8], [.513, 113.2], [.513, 97], [.532, 79.7], [.544, 69]],
  [[.544, 69], [.569, 72.8], [.606, 71.6], [.642, 77.7], [.71, 71.6], [.741, 85], [.704, 109.6], [.655, 112], [.606, 112], [.532, 124.3], [.618, 129.2], [.704, 134], [.704, 138.9], [.771, 140]],
  [[.596, 92.4], [.63, 90.4], [.692, 99.8], [.649, 108.3], [.63, 98.5], [.612, 108.3], [.6, 99.8], [.596, 92.4]],
  [[0, 109.6], [.047, 114.5], [.09, 113.2], [.12, 123], [.151, 127.9], [.182, 129.2], [.188, 123], [.274, 113.2], [.323, 124.3], [.329, 134], [.354, 120.6], [.396, 124.3], [.458, 127.9], [.41, 135.3], [.391, 126.7], [.348, 134]],
  [[.145, 135.3], [.2, 130.4], [.219, 126.7], [.274, 134], [.299, 141.4], [.391, 143.9], [.397, 139]],
  [[0, 143.9], [.04, 151.2], [.102, 153.7], [.065, 161]],
  [[.262, 161], [.268, 151.2], [.296, 151.2], [.299, 161]],
  [[.292, 140], [.348, 150], [.357, 161]],
  [[.403, 161], [.415, 152.5], [.44, 158.6], [.458, 156.1], [.47, 161]],
  [[.513, 161], [.526, 143.9], [.581, 143.9], [.63, 158.6], [.692, 156.1], [.735, 161]],
  [[.493, 134], [.501, 130.4], [.507, 135.3], [.501, 140.2], [.493, 134]],
  [[.704, 129.2], [.729, 128], [.735, 131.6], [.704, 132.8], [.704, 129.2]],
  [[.759, 86.3], [.771, 83.8], [.778, 87.5], [.771, 90.5], [.759, 86.3]],
  [[1.036, 20], [1.021, 25], [1.048, 34.8], [1.054, 58], [1.014, 65.9], [1.072, 77.7], [1.196, 80.2], [1.233, 70.3], [1.269, 69.8], [1.318, 69], [1.414, 67.8], [1.429, 56.9], [1.453, 50.7], [1.429, 38.5], [1.386, 28.7], [1.38, 23.8], [1.398, 20]],
  [[1.072, 20], [1.066, 43], [1.054, 55.2], [1.109, 63.7], [1.196, 69], [1.233, 69], [1.269, 63], [1.318, 65.4], [1.392, 61.8], [1.429, 56.9]],
  [[1.109, 20], [1.097, 43], [1.103, 56.5], [1.171, 66.7], [1.233, 66.7], [1.269, 60.5], [1.318, 63], [1.404, 58], [1.453, 55.6], [1.423, 30], [1.417, 21]],
  [[1.134, 20], [1.116, 40.9], [1.134, 55.6], [1.196, 64.2], [1.257, 64.2], [1.269, 59.3], [1.318, 60.5], [1.416, 53.2], [1.429, 32.3], [1.331, 28.7], [1.306, 20]],
  [[1.165, 36], [1.189, 28.7], [1.233, 38.5], [1.275, 31.6], [1.3, 50.7], [1.281, 56.9], [1.195, 60.5], [1.146, 45.8], [1.165, 36]],
  [[1.208, 44.6], [1.23, 40.4], [1.25, 45.3], [1.23, 50.2], [1.208, 44.6]],
  [[1.177, 70.3], [1.189, 69], [1.198, 74.5], [1.183, 75], [1.177, 70.3]],
  [[1.218, 69.8], [1.236, 69.8], [1.251, 85], [1.269, 71.6], [1.281, 70.8], [1.312, 72.8], [1.29, 82.6], [1.281, 72.8]],
  [[.763, 70.3], [.778, 65.4], [.815, 75.2], [.864, 70.3], [.925, 67.8], [.98, 65.9], [.993, 75.2], [.974, 77.7], [1.029, 79], [1.038, 88.7], [.999, 93.6], [.925, 96], [.833, 99.8], [.812, 91.2], [.827, 83.8], [.778, 81.4], [.772, 74]],
  [[.756, 86.3], [.771, 82.6], [.787, 86.3], [.771, 90], [.756, 86.3]],
  [[.888, 85], [.898, 83.8], [.903, 87.5], [.888, 85]],
  [[1.048, 90], [1.103, 86.3], [1.165, 108.3], [1.208, 115], [1.23, 104.7], [1.257, 108.3], [1.272, 96], [1.287, 107.6], [1.343, 105.9], [1.361, 98.5], [1.429, 99.8], [1.41, 92.4], [1.38, 78.9], [1.441, 74], [1.475, 110.8], [1.447, 121.8], [1.459, 129.2], [1.503, 131.6]],
  [[1.048, 90], [1.075, 99.8], [1.042, 107.1], [1.067, 112], [1.046, 116.9], [1.054, 124.3], [1.097, 125.5], [1.152, 138.9], [1.207, 158], [1.281, 152.5], [1.367, 148.9], [1.447, 144], [1.484, 155], [1.478, 161]],
  [[1.232, 124.3], [1.25, 119.4], [1.281, 119], [1.29, 125.5], [1.263, 129.2], [1.232, 124.3]],
  [[1.287, 136], [1.312, 131.6], [1.308, 124.3], [1.343, 121.8], [1.386, 119.9], [1.39, 125.5], [1.349, 129.2], [1.319, 135.3], [1.287, 136]],
  [[1.005, 134], [1.042, 131.6], [1.042, 136.5], [1.026, 138.5], [1.005, 134]],
  [[.96, 141.4], [.98, 134.6], [.993, 134], [.977, 142.6], [.96, 141.4]],
  [[.741, 139], [.765, 142.6], [.802, 135.3], [.833, 134], [.808, 136.5], [.815, 145], [.852, 143.9], [.943, 145], [1.036, 151.2], [1.072, 152.5], [1.072, 161]],
  [[.12, 271], [.12, 249.3], [.133, 244.4], [.131, 218.6], [.084, 208.8], [.043, 217.9], [.016, 190.4], [.059, 174.5], [.047, 168.4], [.071, 161], [.102, 154.9], [.059, 151.2], [0, 150]],
  [[.299, 271], [.305, 244.4], [.329, 234.6], [.301, 224.8], [.305, 216.2], [.335, 213.7], [.354, 219.9], [.397, 215], [.434, 204.4], [.471, 202.7], [.489, 196.6], [.52, 194.6], [.526, 188], [.544, 188], [.577, 205.1], [.565, 217.4], [.587, 240.7], [.606, 239.5], [.651, 224.8], [.63, 218.6], [.636, 203.9], [.606, 201.5], [.603, 194.1], [.636, 192.9], [.655, 184.3], [.661, 173.3], [.673, 161], [.624, 155.4], [.6, 156.1], [.557, 146.3]],
  [[.357, 234.6], [.403, 229.7], [.434, 226.7], [.462, 215], [.477, 254.2], [.428, 260.3], [.391, 259], [.378, 251.7], [.357, 234.6]],
  [[.418, 239.5], [.434, 232.8], [.452, 235.8], [.44, 250.5], [.431, 250.5], [.418, 239.5]],
  [[.378, 225.2], [.397, 221.8], [.412, 225.2], [.393, 229], [.378, 225.2]],
  [[.182, 230.9], [.19, 222.3], [.204, 225.2], [.188, 230.9], [.182, 230.9]],
  [[.265, 158.6], [.274, 151.2], [.299, 152.5], [.302, 163.5], [.292, 168.4], [.265, 158.6]],
  [[.348, 146.3], [.354, 161], [.397, 175.2], [.397, 161], [.415, 152.5], [.434, 162.3], [.458, 156.1], [.477, 172], [.501, 161], [.52, 146.3]],
  [[.477, 183], [.485, 182], [.491, 185.5], [.483, 189.2], [.477, 183]],
  [[.673, 173], [.686, 156], [.716, 157.4], [.716, 172], [.704, 174.5], [.673, 169.6]],
  [[.796, 271], [.808, 249.3], [.835, 237], [.805, 216], [.808, 185.5], [.839, 190], [.826, 195.3], [.87, 212.5], [.863, 239.5], [.9, 254.2], [.882, 271]],
  [[1.124, 271], [1.122, 251.7], [1.13, 234.6], [1.115, 219.9], [1.115, 197.8], [1.078, 184.3], [1.087, 175.7], [1.072, 163.5], [1.06, 151.2], [.987, 146.3]],
  [[1.453, 271], [1.441, 244.4], [1.456, 224.8], [1.437, 207.6], [1.447, 191.7], [1.496, 183], [1.49, 163.5], [1.466, 153.7], [1.447, 146.3]],
  [[1.158, 146.3], [1.209, 157.8], [1.275, 153.7], [1.361, 150], [1.423, 146.3]],
]
const meridDashed: Pt[][] = [
  [[.581, 23.8], [.569, 45.8], [.593, 64.2], [.704, 66.7], [.771, 60.5]],
  [[.655, 21.3], [.673, 31.1], [.642, 45.8], [.636, 60.5], [.704, 64.2]],
  [[.771, 36], [.716, 38.5], [.692, 55.6], [.753, 55.6], [.765, 38.5]],
  [[.495, 70.3], [.544, 60.5], [.606, 50.7]],
  [[.507, 70.3], [.606, 72.8], [.704, 69.1], [.771, 66.7]],
  [[.741, 58], [.778, 52], [.815, 45.8], [.889, 48.3], [.926, 55.6], [.907, 66.7], [.864, 65.4], [.815, 58]],
  [[.778, 21.3], [.827, 26], [.864, 33.6], [.919, 31], [.925, 21.3]],
  [[.943, 36], [.993, 40.9], [1.036, 36], [1.042, 45.8], [1.005, 58], [.913, 66.7]],
  [[1.478, 21], [1.472, 38.5], [1.49, 55.6], [1.472, 70.3], [1.503, 72.8]],
  [[1.331, 70.3], [1.355, 64.2], [1.361, 69]],
]

const fmt0 = (v: number) => String(v)
const fmt1 = (v: number) => v.toFixed(1)
const fmt2 = (v: number) => v.toFixed(2)

// piecewise linear lookup in the colour table
function colorOf(v: number, scale: number[], colors: string[]) {
  const rgb = (h: string) => [1, 3, 5].map((i) => parseInt(h.slice(i, i + 2), 16))
  if (v <= scale[0]) return colors[0]
  for (let i = 1; i < scale.length; i++) {
    if (v <= scale[i]) {
      const f = (v - scale[i - 1]) / (scale[i] - scale[i - 1])
      const a = rgb(colors[i - 1])
      const b = rgb(colors[i])
      return `rgb(${a.map((c, k) => Math.round(c + (b[k] - c) * f)).join(',')})`
    }
  }
  return colors[colors.length - 1]
}

function Caption({ x, y, size, text, rotate }: { x: number; y: number; size: number; text: string; rotate?: boolean }) {
  return (
    <div
      style={{
        position: 'absolute',
        left: x,
        top: y,
        fontSize: size,
        lineHeight: 1,
        whiteSpace: 'nowrap',
        transform: `translate(-50%, -50%)${rotate ? ' rotate(-90deg)' : ''}`,
      }}
    >
      {text}
    </div>
  )
}

const NoDot = () => <g />

interface PanelProps {
  id: string
  box: { l: number; r: number; t: number; b: number }
  xDomain: [number, number]
  yDomain: [number, number]
  levels: number[]
  grid: number[][]
  scale: number[]
  colors: string[]
  heavy?: Pt[][]
  thick?: Pt[][]
  thin?: Pt[][]
  dashed?: Pt[][]
  labels?: { t: number; p: number; text: string }[]
  labelAngles?: number[]
  labelSize?: number
  labelCharW?: number
  labelH?: number
  labelDy?: string
  tickSize: number
  xLabelGap: number
  smooth?: boolean
}

function Panel(props: PanelProps) {
  const { id, box, xDomain, yDomain, levels, grid, scale, colors, heavy = [], thick = [], thin = [], dashed = [], labels = [], labelAngles = [], labelSize = 11, labelCharW = 7.5, labelH = 12, labelDy = '0.36em', tickSize, xLabelGap, smooth = false } = props
  const plotW = box.r - box.l
  const plotH = box.b - box.t
  const ky = plotH / (yDomain[1] - yDomain[0])
  const colW = (0.1 * plotW) / (xDomain[1] - xDomain[0])

  const cells = grid.flatMap((row, j) =>
    j === levels.length - 1
      ? []
      : row.map((v, i) => ({ t: times[i], p: levels[j], nextP: levels[j + 1], v, nextV: grid[j + 1][i], col: i, row: j })),
  )

  const cellShape = (s: any) => {
    const c = s.payload
    const h = (c.nextP - c.p) * ky + 0.6
    const gid = `${id}-${c.col}-${c.row}`
    const left = c.col === 0 ? s.cx - 40 : s.cx - colW / 2 - 0.5
    const right = c.col === times.length - 1 ? s.cx + 40 : s.cx + colW / 2 + 0.5
    const steps = [0, 0.2, 0.4, 0.6, 0.8, 1]
    return (
      <g>
        <defs>
          <linearGradient id={gid} x1="0" y1="0" x2="0" y2="1">
            {steps.map((f) => (
              <stop key={f} offset={f} stopColor={colorOf(c.v + (c.nextV - c.v) * f, scale, colors)} />
            ))}
          </linearGradient>
        </defs>
        <rect x={left} y={s.cy} width={right - left} height={h} fill={`url(#${gid})`} />
      </g>
    )
  }

  const labelShape = (s: any) => {
    const idx = labels.findIndex((l) => l.t === s.payload.t && l.p === s.payload.p)
    const a = labelAngles[idx] ?? 0
    const w = s.payload.text.length * labelCharW + 2
    return (
      <g transform={`translate(${s.cx},${s.cy}) rotate(${a})`}>
        <rect x={-w / 2} y={-labelH / 2} width={w} height={labelH} fill="#fff" />
        <text textAnchor="middle" dy={labelDy} fontSize={labelSize} fill="#111" fontFamily={FONT}>
          {s.payload.text}
        </text>
      </g>
    )
  }

  const TimeTick = (s: any) => {
    const major = Math.abs(s.payload.value * 2 - Math.round(s.payload.value * 2)) < 0.001
    return (
      <g>
        <line x1={s.x} x2={s.x} y1={s.y} y2={s.y + (major ? 5 : 3)} stroke="#222" />
        {major && (
          <text x={s.x} y={s.y + tickSize + xLabelGap} textAnchor="middle" fontSize={tickSize} fontFamily={FONT} fill="#111">
            {s.payload.value.toFixed(1)}
          </text>
        )}
      </g>
    )
  }

  const PressureTick = (s: any) => {
    const major = s.payload.value % 100 === 0
    return (
      <g>
        <line x1={s.x - (major ? 6 : 3)} x2={s.x} y1={s.y} y2={s.y} stroke="#222" />
        {major && (
          <text x={s.x - 13} y={s.y} dy="0.36em" textAnchor="end" fontSize={tickSize} fontFamily={FONT} fill="#111">
            {s.payload.value}
          </text>
        )}
      </g>
    )
  }

  const contour = (pts: Pt[], key: string, width: number, dash?: string) => {
    // lines that only run forward in time can be drawn smooth, loops stay straight
    const forward = pts.every((q, i) => i === 0 || q[0] > pts[i - 1][0])
    return (
      <Scatter
        key={key}
        data={pts.map(([t, p]) => ({ t, p }))}
        line={{ stroke: '#000', strokeWidth: width, strokeDasharray: dash, fill: 'none' }}
        lineJointType={smooth && forward ? 'monotoneX' : 'linear'}
        stroke="#000"
        shape={NoDot}
        isAnimationActive={false}
        legendType="none"
      />
    )
  }

  return (
    <div style={{ position: 'absolute', left: box.l - 70, top: box.t - 5 }}>
      <ComposedChart
        width={plotW + 95}
        height={plotH + 45}
        margin={{ top: 5, left: 0, right: 25, bottom: 0 }}
      >
        <XAxis
          type="number"
          dataKey="t"
          domain={xDomain}
          ticks={timeTicks}
          interval={0}
          allowDataOverflow
          height={40}
          tickLine={false}
          tickSize={0}
          tickMargin={0}
          tick={TimeTick}
          stroke="#222"
        />
        <YAxis
          type="number"
          dataKey="p"
          reversed
          domain={yDomain}
          ticks={pressureTicks}
          interval={0}
          allowDataOverflow
          width={70}
          tickLine={false}
          tickSize={0}
          tickMargin={0}
          tick={PressureTick}
          stroke="#222"
        />
        <Scatter data={cells} shape={cellShape} className="heat" isAnimationActive={false} legendType="none" />
        {thin.map((pts, i) => contour(pts, `thin-${i}`, 1))}
        {thick.map((pts, i) => contour(pts, `thick-${i}`, 1.7))}
        {heavy.map((pts, i) => contour(pts, `heavy-${i}`, 3.6))}
        {dashed.map((pts, i) => contour(pts, `dash-${i}`, 1, '5 4'))}
        {labels.length > 0 && <Scatter data={labels} shape={labelShape} isAnimationActive={false} legendType="none" />}
      </ComposedChart>
    </div>
  )
}

function ColorBar(props: {
  id: string
  left: number
  right: number
  top: number
  bottom: number
  scale: number[]
  colors: string[]
  ticks: number[]
  format: (v: number) => string
  size: number
  labelGap: number
  anchor?: 'start' | 'end'
  lowLabelShift?: number
}) {
  const { id, left, right, top, bottom, scale, colors, ticks, format, size, labelGap, anchor = 'start', lowLabelShift = 0 } = props
  const min = scale[0]
  const max = scale[scale.length - 1]
  const barW = right - left
  const padTop = 14
  // the lowest bar ends close to the page edge
  const padBottom = Math.min(14, 1242 - bottom)
  const BarTick = (s: any) => (
    <g>
      <line x1={s.x} x2={s.x + 8} y1={s.y} y2={s.y} stroke="#000" strokeWidth={2.8} />
      <text x={s.x + labelGap} y={s.y + (s.payload.value === min ? lowLabelShift : 0)} dy="0.36em" textAnchor={anchor} fontSize={size} fontFamily={FONT} fill="#111">
        {format(s.payload.value)}
      </text>
    </g>
  )
  return (
    <div style={{ position: 'absolute', left: left, top: top - padTop }}>
      <ComposedChart width={barW + 80} height={bottom - top + padTop + padBottom} margin={{ top: padTop, bottom: padBottom, left: 0, right: 0 }}>
        <defs>
          <linearGradient id={id} x1="0" y1="1" x2="0" y2="0">
            {scale.map((v, i) => (
              <stop key={v} offset={(v - min) / (max - min)} stopColor={colors[i]} />
            ))}
          </linearGradient>
        </defs>
        <XAxis type="number" dataKey="x" hide domain={[0, 1]} height={0} />
        <YAxis
          type="number"
          dataKey="y"
          orientation="right"
          domain={[min, max]}
          ticks={ticks}
          interval={0}
          width={80}
          axisLine={false}
          tickLine={false}
          tickSize={0}
          tickMargin={0}
          tick={BarTick}
        />
        <Scatter data={[{ x: 0, y: min }, { x: 1, y: max }]} shape={NoDot} isAnimationActive={false} legendType="none" />
        <ReferenceArea x1={0} x2={1} y1={min} y2={max} fill={`url(#${id})`} fillOpacity={1} stroke="#000" strokeWidth={2.8} />
        {ticks.map((v) => (
          <ReferenceLine key={v} y={v} stroke="#000" strokeWidth={2.8} />
        ))}
      </ComposedChart>
    </div>
  )
}

export default function App() {
  return (
    <div style={{ position: 'absolute', left: 0, top: 0, width: 1455, height: 1242, background: '#fff', color: '#000', fontFamily: FONT, overflow: 'hidden' }}>
      <style>{`.heat { filter: url(#hblur); }`}</style>
      <svg width={0} height={0} style={{ position: 'absolute' }}>
        <defs>
          <filter id="hblur" x="-5%" y="-5%" width="110%" height="110%" colorInterpolationFilters="sRGB">
            <feGaussianBlur stdDeviation="7 0" />
          </filter>
        </defs>
      </svg>

      <Caption x={322} y={28} size={52} text="Potential Temperature" />
      <Caption x={322} y={531} size={34.3} text="Time (days)" />
      <Caption x={21} y={287} size={28.8} text="Pressure(db)" rotate />
      <Panel
        id="temp"
        box={{ l: 89.5, r: 553, t: 91, b: 477 }}
        xDomain={[-0.0065, 1.5]}
        yDomain={[20.1, 270.8]}
        levels={tempLevels}
        grid={tempGrid}
        scale={tempScale}
        colors={tempColors}
        heavy={tempHeavy}
        thick={tempThick}
        thin={tempThin}
        labels={tempLabels}
        labelAngles={tempLabelAngles}
        labelSize={21}
        labelCharW={9}
        labelH={11}
        labelDy="0.2em"
        tickSize={19.5}
        xLabelGap={10}
        smooth
      />
      <ColorBar id="tempBar" left={595} right={622} top={31} bottom={543} scale={tempScale} colors={tempColors} ticks={tempBarTicks} format={fmt1} size={19.5} labelGap={14} />

      <Caption x={1047} y={33} size={51} text="Salinity" />
      <Caption x={1047} y={531} size={34} text="Time (days)" />
      <Caption x={731} y={281} size={33.4} text="Pressure(db)" rotate />
      <Panel
        id="sal"
        box={{ l: 816.5, r: 1276, t: 95.5, b: 478 }}
        xDomain={[-0.005, 1.503]}
        yDomain={[20, 269.8]}
        levels={salLevels}
        grid={salGrid}
        scale={salScale}
        colors={salColors}
        thick={salThick}
        thin={salThin}
        labels={salLabels}
        labelAngles={salLabelAngles}
        labelSize={12}
        labelCharW={7.5}
        labelH={12}
        tickSize={19.5}
        xLabelGap={9}
        smooth
      />
      <ColorBar id="salBar" left={1323} right={1373} top={45} bottom={552} scale={salScale} colors={salColors} ticks={salBarTicks} format={fmt2} size={19.6} labelGap={16} />

      <Caption x={305} y={761} size={45.8} text="Zonal Velocity" />
      <Caption x={305} y={1203} size={30.2} text="Time (days)" />
      <Caption x={39} y={986} size={29.8} text="Pressure(db)" rotate />
      <Panel
        id="zonal"
        box={{ l: 100.5, r: 509, t: 816, b: 1157 }}
        xDomain={[-0.004, 1.5037]}
        yDomain={[19.9, 270.6]}
        levels={velLevels}
        grid={zonalGrid}
        scale={velScale}
        colors={velColors}
        thin={zonalSolid}
        dashed={zonalDashed}
        tickSize={17}
        xLabelGap={8}
      />
      <ColorBar id="zonalBar" left={572} right={617} top={772} bottom={1223} scale={velScale} colors={velColors} ticks={velBarTicks} format={fmt0} size={17} labelGap={38} anchor="end" />

      <Caption x={1028} y={773} size={45.7} text="Meridional Velocity" />
      <Caption x={1028} y={1215} size={30.2} text="Time (days)" />
      <Caption x={762} y={998} size={29.8} text="Pressure(db)" rotate />
      <Panel
        id="merid"
        box={{ l: 823.5, r: 1232, t: 828, b: 1169 }}
        xDomain={[-0.004, 1.5037]}
        yDomain={[19.9, 270.6]}
        levels={velLevels}
        grid={meridGrid}
        scale={velScale}
        colors={velColors}
        thin={meridSolid}
        dashed={meridDashed}
        tickSize={17}
        xLabelGap={8}
      />
      <ColorBar id="meridBar" left={1295} right={1340} top={784} bottom={1235} scale={velScale} colors={velColors} ticks={velBarTicks} format={fmt0} size={17} labelGap={37} anchor="end" lowLabelShift={-3} />
    </div>
  )
}
